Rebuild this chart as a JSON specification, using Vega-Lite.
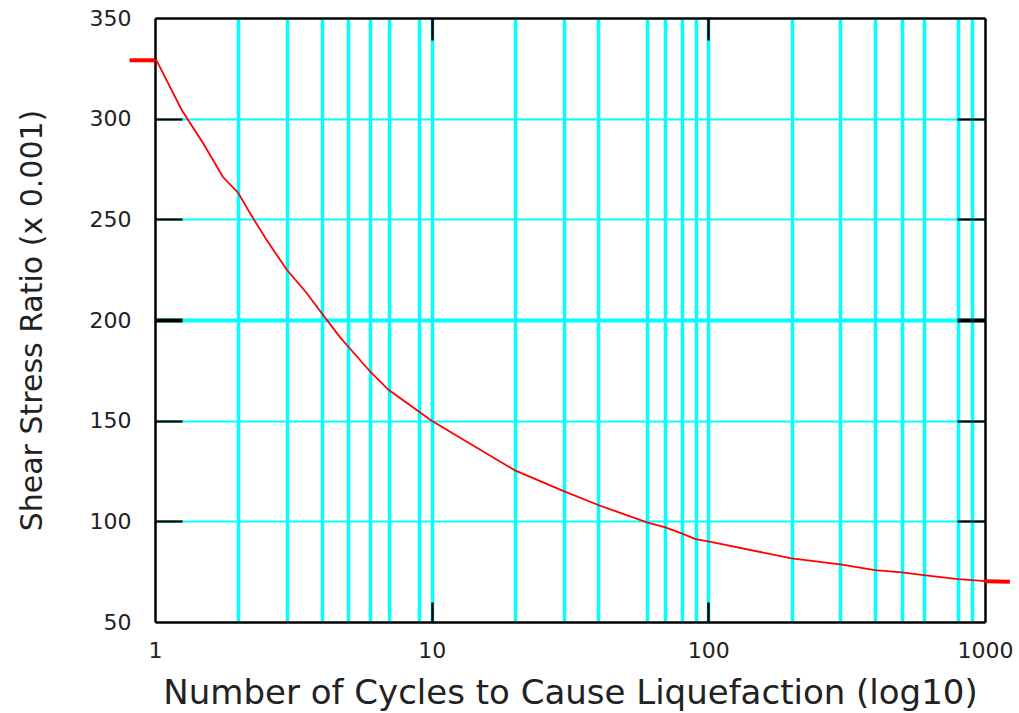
{
  "$schema": "https://vega.github.io/schema/vega-lite/v6.json",
  "width": 830,
  "height": 604,
  "autosize": "none",
  "padding": {"left": 155, "top": 18, "right": 34, "bottom": 91},
  "background": "white",
  "datasets": {
    "curve": [
      {"cycles": 1, "ratio": 329},
      {"cycles": 1.014, "ratio": 328.8},
      {"cycles": 1.249, "ratio": 304.3},
      {"cycles": 1.491, "ratio": 287.9},
      {"cycles": 1.761, "ratio": 271},
      {"cycles": 2, "ratio": 263.1},
      {"cycles": 2.204, "ratio": 253.1},
      {"cycles": 2.533, "ratio": 239.7},
      {"cycles": 3, "ratio": 224.8},
      {"cycles": 3.532, "ratio": 213.4},
      {"cycles": 4, "ratio": 203.5},
      {"cycles": 4.66, "ratio": 191.5},
      {"cycles": 5, "ratio": 186.7},
      {"cycles": 6, "ratio": 174.3},
      {"cycles": 7, "ratio": 165.2},
      {"cycles": 10, "ratio": 150},
      {"cycles": 20, "ratio": 125.3},
      {"cycles": 30, "ratio": 115},
      {"cycles": 40, "ratio": 108.1},
      {"cycles": 60, "ratio": 99.5},
      {"cycles": 70, "ratio": 97},
      {"cycles": 80, "ratio": 94},
      {"cycles": 90, "ratio": 91.2},
      {"cycles": 100, "ratio": 90},
      {"cycles": 200, "ratio": 81.6},
      {"cycles": 300, "ratio": 78.6},
      {"cycles": 400, "ratio": 75.8},
      {"cycles": 500, "ratio": 74.6},
      {"cycles": 600, "ratio": 73.3},
      {"cycles": 800, "ratio": 71.3},
      {"cycles": 900, "ratio": 70.8},
      {"cycles": 1000, "ratio": 70.3}
    ],
    "ends": [
      {"side": "left", "cycles": 0.81, "ratio": 329},
      {"side": "left", "cycles": 1, "ratio": 329},
      {"side": "right", "cycles": 1000, "ratio": 70.3},
      {"side": "right", "cycles": 1230, "ratio": 70}
    ]
  },
  "layer": [
    {
      "data": {"name": "curve"},
      "mark": {"type": "line", "color": "#ff0000", "strokeWidth": 1.8, "clip": false},
      "encoding": {
        "x": {
          "field": "cycles",
          "type": "quantitative",
          "scale": {"type": "log", "domain": [1, 1000], "nice": false},
          "axis": {
            "orient": "bottom",
            "values": [1, 2, 3, 4, 5, 6, 7, 9, 10, 20, 30, 40, 60, 70, 80, 90, 100, 200, 300, 400, 500, 600, 800, 900, 1000],
            "format": "d",
            "labelExpr": "datum.value == 1 || datum.value == 10 || datum.value == 100 || datum.value == 1000 ? datum.label : ''",
            "labelOverlap": false,
            "labelFlush": false,
            "grid": true,
            "gridColor": {"condition": {"test": "datum.value == 1 || datum.value == 1000", "value": "transparent"}, "value": "#00ffff"},
            "gridWidth": 3.5,
            "gridOpacity": 1,
            "tickOpacity": {"condition": {"test": "datum.value == 10 || datum.value == 100", "value": 1}, "value": 0},
            "tickSize": -20,
            "tickWidth": 2.5,
            "labelPadding": 38,
            "labelFontSize": 22,
            "title": "Number of Cycles to Cause Liquefaction (log10)",
            "titleFontSize": 34,
            "titlePadding": 15
          }
        },
        "y": {
          "field": "ratio",
          "type": "quantitative",
          "scale": {"domain": [50, 350], "nice": false, "zero": false},
          "axis": {
            "orient": "left",
            "values": [50, 100, 150, 200, 250, 300, 350],
            "format": "d",
            "grid": true,
            "gridColor": {"condition": {"test": "datum.value == 50 || datum.value == 350", "value": "transparent"}, "value": "#00ffff"},
            "gridWidth": {"condition": {"test": "datum.value == 200", "value": 4}, "value": 2.2},
            "gridOpacity": 1,
            "tickSize": -27,
            "tickWidth": {"condition": {"test": "datum.value == 200", "value": 4}, "value": 2.2},
            "tickOpacity": {"condition": {"test": "datum.value == 50 || datum.value == 350", "value": 0}, "value": 1},
            "labelPadding": 51,
            "labelFontSize": 22,
            "title": "Shear Stress Ratio (x 0.001)",
            "titleFontSize": 30,
            "titlePadding": 42
          }
        }
      }
    },
    {
      "data": {"name": "ends"},
      "mark": {"type": "line", "color": "#ff0000", "strokeWidth": 4, "clip": false},
      "encoding": {
        "x": {
          "field": "cycles",
          "type": "quantitative",
          "scale": {"type": "log", "domain": [1, 1000], "nice": false},
          "axis": {
            "orient": "top",
            "values": [10, 100],
            "labels": false,
            "grid": false,
            "tickSize": -22,
            "tickWidth": 2.5,
            "title": null
          }
        },
        "y": {
          "field": "ratio",
          "type": "quantitative",
          "scale": {"domain": [50, 350], "nice": false, "zero": false},
          "axis": {
            "orient": "right",
            "values": [100, 150, 200, 250, 300],
            "labels": false,
            "grid": false,
            "tickSize": -28,
            "tickWidth": {"condition": {"test": "datum.value == 200", "value": 4}, "value": 2.2},
            "title": null
          }
        },
        "detail": {"field": "side", "type": "nominal"}
      }
    }
  ],
  "resolve": {"axis": {"x": "independent", "y": "independent"}},
  "config": {
    "view": {"stroke": null},
    "axis": {
      "domainColor": "#000000",
      "domainWidth": 2.5,
      "tickColor": "#000000",
      "labelFont": "DejaVu Sans",
      "labelColor": "#222222",
      "titleFont": "DejaVu Sans",
      "titleColor": "#222222",
      "titleFontWeight": "normal"
    }
  }
}
